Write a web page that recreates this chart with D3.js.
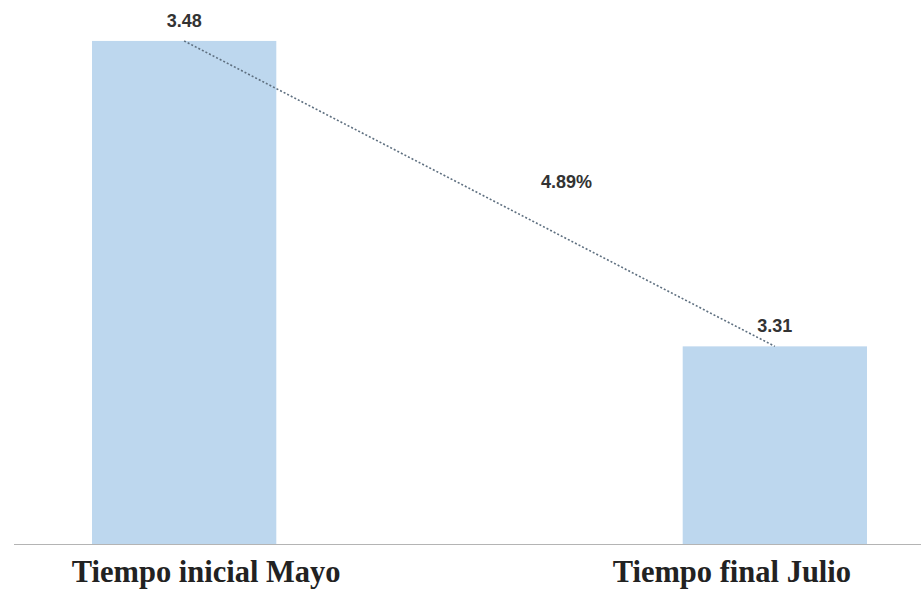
<!DOCTYPE html>
<html>
<head>
<meta charset="utf-8">
<script src="https://cdn.jsdelivr.net/npm/d3@7"></script>
<style>
  html, body { margin: 0; padding: 0; background: #fff; }
  svg { display: block; }
</style>
</head>
<body>
<svg id="chart" width="921" height="590"></svg>
<script>
// Average time, start (May) vs. end (July)
const categories = ["Tiempo inicial Mayo", "Tiempo final Julio"];
const values = [3.48, 3.31];
const valueLabels = ["3.48", "3.31"];
const changeLabel = "4.89%";

const svg = d3.select("#chart");
const W = 921, H = 590;

const x = d3.scaleBand()
  .domain(categories)
  .range([92, 867])
  .paddingInner(0.688)
  .paddingOuter(0);

const y = d3.scaleLinear()
  .domain([3.2, 3.5])
  .range([544, 5]);

const data = categories.map((c, i) => ({ cat: c, value: values[i], label: valueLabels[i] }));

// bars
svg.selectAll("rect.bar")
  .data(data)
  .join("rect")
  .attr("class", "bar")
  .attr("x", d => x(d.cat))
  .attr("y", d => y(d.value))
  .attr("width", x.bandwidth())
  .attr("height", d => y.range()[0] - y(d.value))
  .attr("fill", "#bdd7ee");

// baseline
svg.append("line")
  .attr("x1", 14).attr("x2", W)
  .attr("y1", y.range()[0] + 0.5).attr("y2", y.range()[0] + 0.5)
  .attr("stroke", "#b4b4b4")
  .attr("stroke-width", 1.2);

// dotted trend line between bar tops
const cx = d => x(d.cat) + x.bandwidth() / 2;
svg.append("line")
  .attr("x1", cx(data[0])).attr("y1", y(data[0].value))
  .attr("x2", cx(data[1])).attr("y2", y(data[1].value))
  .attr("stroke", "#5f7080")
  .attr("stroke-width", 1.6)
  .attr("stroke-dasharray", "2,2");

// value labels
svg.selectAll("text.val")
  .data(data)
  .join("text")
  .attr("class", "val")
  .attr("x", d => cx(d))
  .attr("y", d => y(d.value) - 14)
  .attr("text-anchor", "middle")
  .attr("font-family", "Liberation Sans, Arial, sans-serif")
  .attr("font-weight", "bold")
  .attr("font-size", 18)
  .attr("fill", "#333")
  .text(d => d.label);

// change label near the middle of the trend line
svg.append("text")
  .attr("x", (cx(data[0]) + cx(data[1])) / 2 + 87)
  .attr("y", 188)
  .attr("text-anchor", "middle")
  .attr("font-family", "Liberation Sans, Arial, sans-serif")
  .attr("font-weight", "bold")
  .attr("font-size", 18)
  .attr("fill", "#333")
  .text(changeLabel);

// category labels
const labelShift = [22, -43];
svg.selectAll("text.cat")
  .data(data)
  .join("text")
  .attr("class", "cat")
  .attr("x", (d, i) => cx(d) + labelShift[i])
  .attr("y", 582)
  .attr("text-anchor", "middle")
  .attr("font-family", "Liberation Serif, Times New Roman, serif")
  .attr("font-weight", "bold")
  .attr("font-size", 30.5)
  .attr("fill", "#222")
  .text(d => d.cat);
</script>
</body>
</html>
